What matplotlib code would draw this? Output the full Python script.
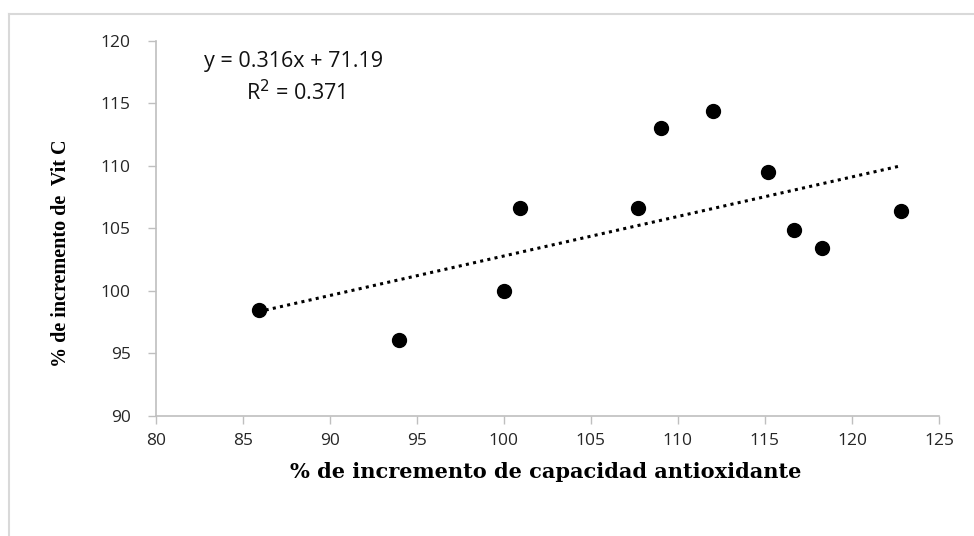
import numpy as np
import matplotlib
matplotlib.use("Agg")
import matplotlib.pyplot as plt
from matplotlib.lines import Line2D

# incremento de capacidad antioxidante (%) vs incremento de vitamina C (%)
cap_antiox = [85.9, 94.0, 100.0, 100.9, 107.7, 109.0, 112.0, 115.2, 116.7, 118.3, 122.8]
vit_c = [98.5, 96.1, 100.0, 106.6, 106.6, 113.0, 114.35, 109.5, 104.9, 103.4, 106.35]

# linea de tendencia
pendiente = 0.316
intercepto = 71.19
r2 = 0.371

xticks = [80, 85, 90, 95, 100, 105, 110, 115, 120, 125]
yticks = [90, 95, 100, 105, 110, 115, 120]

gris = "#bfbfbf"
fuente_num = "Open Sans"

fig = plt.figure(figsize=(9.74, 5.36), dpi=100)
ax = fig.add_axes([0.160, 0.224, 0.804, 0.700])

ax.scatter(cap_antiox, vit_c, s=100, color="black", zorder=3)

xt = np.array([min(cap_antiox), max(cap_antiox)])
ax.plot(xt, pendiente * xt + intercepto, color="black", linestyle=(0, (1, 1.4)),
        linewidth=2.2, zorder=2)

ax.set_xlim(80, 125)
ax.set_ylim(90, 120)
ax.set_xticks(xticks)
ax.set_yticks(yticks)

for lado in ["top", "right"]:
    ax.spines[lado].set_visible(False)
for lado in ["left", "bottom"]:
    ax.spines[lado].set_color(gris)
    ax.spines[lado].set_linewidth(1.2)

ax.tick_params(axis="both", direction="out", length=6, width=1, color=gris,
               labelsize=12.5, labelcolor="#262626")
ax.tick_params(axis="x", pad=6)
ax.tick_params(axis="y", pad=12)
for lbl in ax.get_xticklabels() + ax.get_yticklabels():
    lbl.set_fontfamily(fuente_num)

ax.text(0.176, 0.944, "y = 0.316x + 71.19", transform=ax.transAxes,
        ha="center", va="center", fontsize=15.5, family=fuente_num, color="#111111")
ax.text(0.179, 0.862, "R$^2$ = %.3f" % r2, transform=ax.transAxes,
        ha="center", va="center", fontsize=15.5, family=fuente_num, color="#111111")

fig.text(0.56, 0.119, "% de incremento de capacidad antioxidante",
         ha="center", va="center", fontsize=15, fontweight="bold", family="DejaVu Serif")
fig.text(0.063, 0.527, "% de incremento de  Vit C", rotation=90,
         ha="center", va="center", fontsize=14.5, fontweight="bold", family="Liberation Serif")

# marco exterior
fig.add_artist(Line2D([9 / 974, 1.0], [1 - 14 / 536, 1 - 14 / 536],
                      transform=fig.transFigure, color="#d9d9d9", linewidth=1.5))
fig.add_artist(Line2D([9 / 974, 9 / 974], [0.0, 1 - 14 / 536],
                      transform=fig.transFigure, color="#d9d9d9", linewidth=1.5))

fig.savefig("out.png", dpi=100, facecolor="white")
